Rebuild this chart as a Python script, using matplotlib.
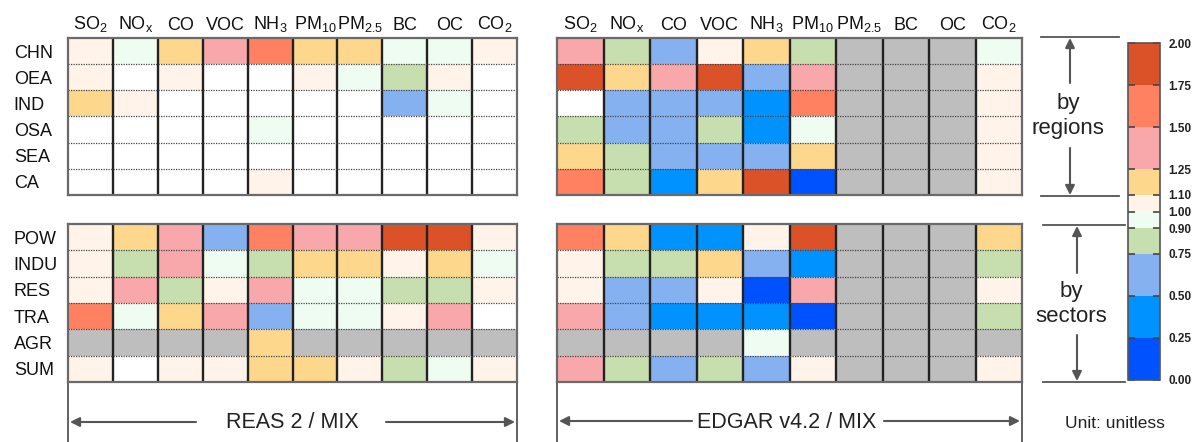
import numpy as np
import matplotlib
matplotlib.use("Agg")
import matplotlib.pyplot as plt
from matplotlib.colors import ListedColormap, BoundaryNorm
from matplotlib.cm import ScalarMappable

plt.rcParams['font.family'] = ['Liberation Sans', 'DejaVu Sans']
plt.rcParams['mathtext.default'] = 'regular'
plt.rcParams['mathtext.fontset'] = 'custom'
plt.rcParams['mathtext.rm'] = 'Liberation Sans'

nan = np.nan
species = ['SO$_2$', 'NO$_x$', 'CO', 'VOC', 'NH$_3$', 'PM$_{10}$', 'PM$_{2.5}$', 'BC', 'OC', 'CO$_2$']
regions = ['CHN', 'OEA', 'IND', 'OSA', 'SEA', 'CA']
sectors = ['POW', 'INDU', 'RES', 'TRA', 'AGR', 'SUM']

reas_regions = [
    [1.05, 0.95, 1.18, 1.38, 1.62, 1.18, 1.18, 0.95, 0.95, 1.05],
    [1.05, 1.00, 1.05, 1.00, 1.00, 1.05, 0.95, 0.82, 1.05, 1.00],
    [1.18, 1.05, 1.00, 1.00, 1.00, 1.00, 1.00, 0.62, 0.95, 1.00],
    [1.00, 1.00, 1.00, 1.00, 0.95, 1.00, 1.00, 1.00, 1.00, 1.00],
    [1.00, 1.00, 1.00, 1.00, 1.00, 1.00, 1.00, 1.00, 1.00, 1.00],
    [1.00, 1.00, 1.00, 1.00, 1.05, 1.00, 1.00, 1.00, 1.00, 1.00],
]
reas_sectors = [
    [1.05, 1.18, 1.38, 0.62, 1.62, 1.38, 1.38, 1.88, 1.88, 1.05],
    [1.05, 0.82, 1.38, 0.95, 0.82, 1.18, 1.18, 1.05, 1.18, 0.95],
    [1.05, 1.38, 0.82, 1.05, 1.38, 0.95, 0.95, 0.82, 0.82, 1.05],
    [1.62, 0.95, 1.18, 1.38, 0.62, 0.95, 0.95, 1.05, 1.38, 1.00],
    [nan, nan, nan, nan, 1.18, nan, nan, nan, nan, nan],
    [1.05, 1.00, 1.05, 1.05, 1.18, 1.18, 1.05, 0.82, 0.95, 1.05],
]
edgar_regions = [
    [1.38, 0.82, 0.62, 1.05, 1.18, 0.82, nan, nan, nan, 0.95],
    [1.88, 1.18, 1.38, 1.88, 0.62, 1.38, nan, nan, nan, 1.05],
    [1.00, 0.62, 0.62, 0.62, 0.38, 1.62, nan, nan, nan, 1.05],
    [0.82, 0.62, 0.62, 0.82, 0.38, 0.95, nan, nan, nan, 1.05],
    [1.18, 0.82, 0.62, 0.62, 0.62, 1.18, nan, nan, nan, 1.05],
    [1.62, 0.82, 0.38, 1.18, 1.88, 0.12, nan, nan, nan, 1.05],
]
edgar_sectors = [
    [1.62, 1.18, 0.38, 0.38, 1.05, 1.88, nan, nan, nan, 1.18],
    [1.05, 0.82, 0.82, 1.18, 0.62, 0.38, nan, nan, nan, 0.82],
    [1.05, 0.62, 0.62, 1.05, 0.12, 1.38, nan, nan, nan, 1.05],
    [1.38, 0.62, 0.38, 0.38, 0.38, 0.12, nan, nan, nan, 0.82],
    [nan, nan, nan, nan, 0.95, nan, nan, nan, nan, nan],
    [1.38, 0.82, 0.62, 0.82, 0.62, 1.05, nan, nan, nan, 1.05],
]

levels = [0.0, 0.25, 0.50, 0.75, 0.90, 1.00, 1.10, 1.25, 1.50, 1.75, 2.00]
colors = ['#0052FF', '#0092FF', '#85B1F1', '#C7DEAF', '#EEFCF1',
          '#FFF3EA', '#FDD78C', '#F8A7AA', '#FF8162', '#DC5228']

cmap = ListedColormap(colors)
cmap.set_bad('#BEBEBE')
norm = BoundaryNorm(levels, cmap.N)
white_cmap = ListedColormap(['white'])

W, H = 1196, 442
fig = plt.figure(figsize=(W / 100, H / 100), dpi=100)


def fax(x0, y0, x1, y1):
    return fig.add_axes([x0 / W, 1 - y1 / H, (x1 - x0) / W, (y1 - y0) / H])


def draw_block(ax, data, rowlabels, show_cols):
    arr = np.array(data, dtype=float)
    m = np.ma.masked_invalid(arr)
    ax.pcolormesh(m, cmap=cmap, norm=norm)
    wm = np.ma.masked_where(~(arr == 1.0), arr)
    ax.pcolormesh(wm, cmap=white_cmap, vmin=0, vmax=2)
    nr, nc = arr.shape
    ax.set_xlim(0, nc)
    ax.set_ylim(nr, 0)
    ax.set_xticks(np.arange(1, nc), minor=True)
    ax.set_yticks(np.arange(1, nr), minor=True)
    ax.grid(which='minor', axis='x', color='#222222', lw=1.7)
    ax.grid(which='minor', axis='y', color='#444444', lw=0.9, ls=(0, (1, 1)))
    ax.tick_params(which='minor', length=0)
    ax.xaxis.tick_top()
    if show_cols:
        ax.set_xticks(np.arange(nc) + 0.5)
        ax.set_xticklabels(species, fontsize=13, color='#111111')
        ax.tick_params(axis='x', which='major', length=0, pad=3)
    else:
        ax.set_xticks([])
    if rowlabels is not None:
        ax.set_yticks(np.arange(nr) + 0.5)
        ax.set_yticklabels(rowlabels, fontsize=13, ha='left', color='#111111')
        ax.tick_params(axis='y', which='major', length=0, pad=39)
    else:
        ax.set_yticks([])
    for s in ax.spines.values():
        s.set_color('#6a6a6a')
        s.set_linewidth(1.6)


ax1 = fax(68, 38, 517, 195)
draw_block(ax1, reas_regions, regions, True)
ax2 = fax(68, 224, 517, 382)
draw_block(ax2, reas_sectors, sectors, False)
ax3 = fax(557, 38, 1022, 195)
draw_block(ax3, edgar_regions, None, True)
ax4 = fax(557, 224, 1022, 382)
draw_block(ax4, edgar_sectors, None, False)

# colorbar
cax = fax(1128, 43, 1160, 380)
sm = ScalarMappable(norm=norm, cmap=cmap)
cb = fig.colorbar(sm, cax=cax, spacing='proportional')
cb.set_ticks(levels, labels=['%.2f' % v for v in levels])
cb.ax.tick_params(left=True, right=True, direction='in', length=5, width=1.2,
                  color='#444444', pad=6, labelsize=8.5, labelcolor='#222222')
for t in cb.ax.get_yticklabels():
    t.set_fontweight('bold')
cb.outline.set_edgecolor('#555555')
cb.outline.set_linewidth(1.2)

# annotation overlay
ov = fig.add_axes([0, 0, 1, 1], zorder=-1)
ov.set_xlim(0, W)
ov.set_ylim(H, 0)
ov.axis('off')
lc = '#555555'
ap = dict(arrowstyle='-|>', color=lc, lw=1.5, mutation_scale=14, shrinkA=0, shrinkB=0)

# bottom brackets
for x in (68, 517, 557, 1022):
    ov.plot([x, x], [383, 442], color=lc, lw=1.3)
ov.annotate('', xy=(70, 422), xytext=(196, 422), arrowprops=ap)
ov.annotate('', xy=(515, 422), xytext=(386, 422), arrowprops=ap)
ov.text(292, 423, 'REAS 2 / MIX', fontsize=15.5, ha='center', va='center', color='#222222')
ov.annotate('', xy=(559, 421), xytext=(692, 421), arrowprops=ap)
ov.annotate('', xy=(1020, 421), xytext=(884, 421), arrowprops=ap)
ov.text(787, 422, 'EDGAR v4.2 / MIX', fontsize=15.5, ha='center', va='center', color='#222222')

# right-side brackets
ov.plot([1041, 1119], [37, 37], color=lc, lw=1.3)
ov.plot([1041, 1119], [196, 196], color=lc, lw=1.3)
ov.annotate('', xy=(1070, 38), xytext=(1070, 83), arrowprops=ap)
ov.annotate('', xy=(1070, 195), xytext=(1070, 148), arrowprops=ap)
ov.text(1068, 116, 'by\nregions', fontsize=16, ha='center', va='center',
        linespacing=1.25, color='#222222')

ov.plot([1043, 1125], [225, 225], color=lc, lw=1.3)
ov.plot([1043, 1125], [382, 382], color=lc, lw=1.3)
ov.annotate('', xy=(1077, 226), xytext=(1077, 273), arrowprops=ap)
ov.annotate('', xy=(1077, 381), xytext=(1077, 335), arrowprops=ap)
ov.text(1071, 304, 'by\nsectors', fontsize=16, ha='center', va='center',
        linespacing=1.25, color='#222222')

ov.text(1115, 423, 'Unit: unitless', fontsize=12.5, ha='center', va='center', color='#222222')

fig.savefig('out.png', dpi=100)
